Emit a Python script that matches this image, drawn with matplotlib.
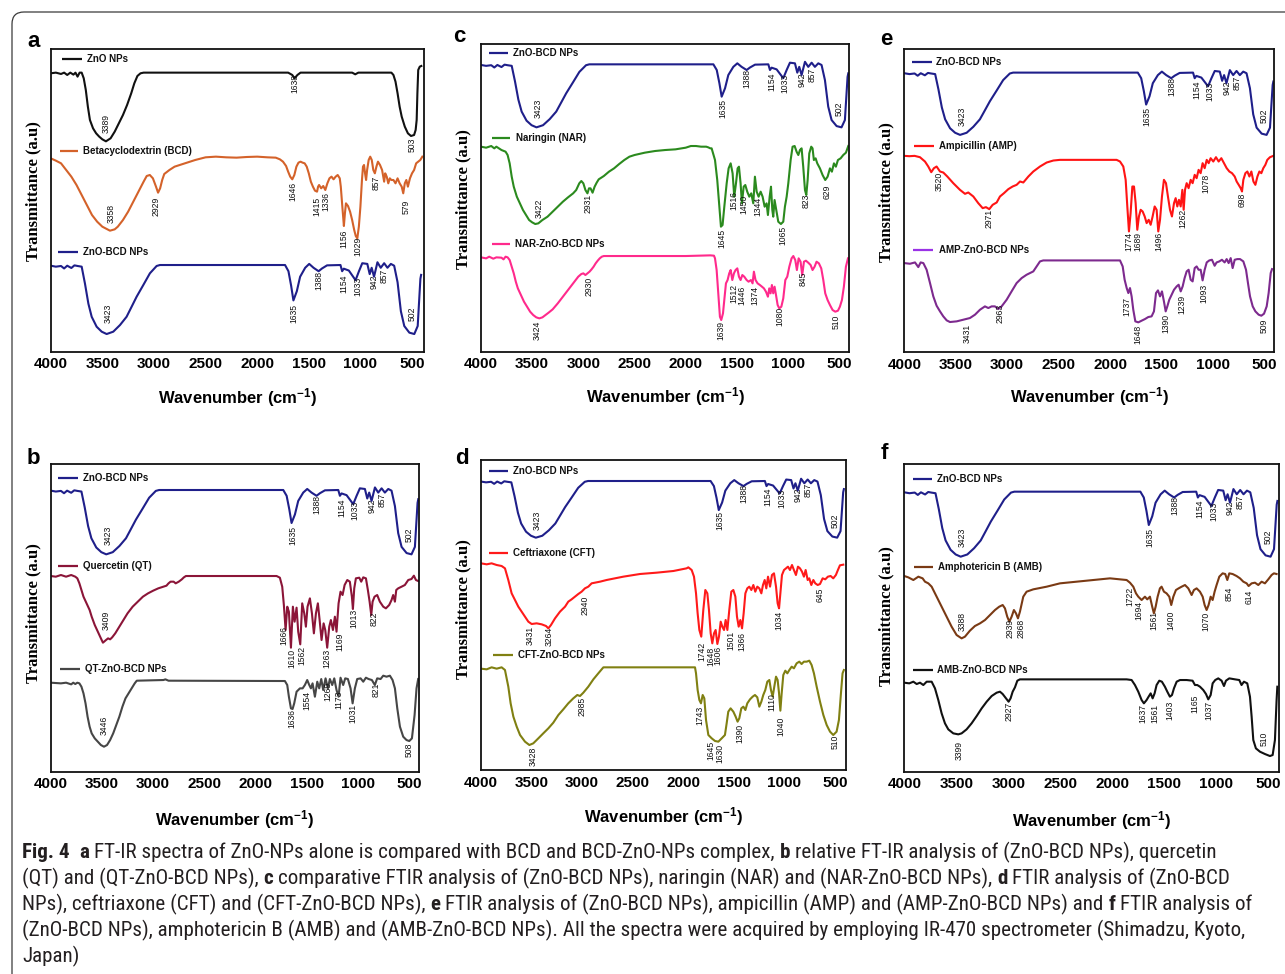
import matplotlib
matplotlib.use("Agg")
import matplotlib.pyplot as plt
from matplotlib import font_manager
from matplotlib.path import Path
from matplotlib.patches import PathPatch
import numpy as np

# ---------------- DATA (wavenumber in cm-1, transmittance in arbitrary units) ----------------
TICKS = [4000, 3500, 3000, 2500, 2000, 1500, 1000, 500]
TICK_LABELS = ["4000", "3500", "3000", "2500", "2000", "1500", "1000", "500"]

# ZnO-BCD NPs spectrum (shared by all six panels), normalised: 100 = baseline, 0 = deepest band
ZNO_BCD_WN = [4000,3950,3900,3870,3840,3800,3770,3740,3700,3668,3635,3603,3555,3506,3458,3394,3329,3265,3216,
              3168,3103,3039,2974,2942,1748,1730,1697,1671,1649,1616,1584,1535,1496,1454,1405,1372,1323,1193,
              1177,1161,1112,1047,1014,982,933,910,891,868,835,803,770,738,705,673,640,608,575,526,478,445,419,412]
ZNO_BCD_N = [99,97.6,98.6,95,99,95.7,99.5,98.6,97.6,73,44,25,10.6,3.4,0,3.4,13,25,39.6,
             54,71,88,98.6,100,100,100,91,70,48.7,62,83,96,101.6,96,91,95,99.5,100,
             91,94.7,92,78,91,102.6,101.6,86.8,96,83,104,96,102.6,96,101.6,99,75,33,11.6,2,0,11.6,80,85.7]
ZNO_BCD_PEAKS = ["3423", "1635", "1388", "1154", "1033", "942", "857", "502"]
ZNO_BCD_PEAK_WN = [3442, 1640, 1400, 1160, 1027, 865, 768, 500]
ZNO_BCD_PEAK_N = [30, 30, 78, 73, 69, 76, 84, 30]

# Panel a
ZNO_WN = [4000,3950,3900,3870,3840,3810,3780,3760,3740,3720,3700,3680,3660,3640,3620,3590,3560,3530,3500,3465,
          3420,3380,3340,3300,3260,3220,3190,3160,3130,3100,1700,1660,1638,1610,1580,1080,1050,1020,
          700,680,660,640,620,600,570,540,510,480,465,455,448,440,425,410]
ZNO_T = [84.0,84.2,83.8,84.2,83.5,84.2,83.6,84.2,83.0,84.2,84.2,82.5,79.0,74.0,70.0,67.5,66.0,65.0,64.2,63.6,
         64.5,66.5,69.0,71.5,74.5,78.0,81.0,83.2,84.0,84.2,84.2,83.5,82.5,83.5,84.2,84.2,83.7,84.2,
         84.2,83.5,81.5,78.0,74.0,71.0,68.0,66.0,65.2,65.5,67.0,70.0,78.0,85.0,86.0,86.2]
BCD_WN = [4000,3950,3900,3850,3800,3750,3700,3650,3600,3550,3500,3426,3380,3350,3300,3250,3200,3150,3100,3070,
          3040,3010,2980,2960,2940,2920,2900,2850,2800,2700,2600,2500,2400,2300,2200,2100,2000,1900,1820,1780,
          1750,1720,1700,1680,1660,1640,1620,1600,1580,1560,1540,1520,1500,1480,1460,1440,1420,1410,1400,1380,
          1360,1340,1320,1300,1280,1260,1240,1220,1200,1190,1175,1160,1150,1140,1120,1100,1080,1060,1045,1030,
          1015,1000,985,975,965,955,945,935,920,905,890,875,860,845,830,810,790,770,760,745,
          730,715,700,680,660,640,620,600,585,570,555,540,520,500,480,460,440,420,400]
BCD_T = [58.5,57.8,57.0,55.0,53.0,50.5,47.5,44.5,41.5,39.5,38.0,36.8,37.2,38.0,40.0,42.5,45.5,48.5,51.5,53.2,
         53.5,52.5,50.0,48.2,49.5,52.0,53.8,55.0,56.0,57.0,58.0,58.8,59.0,58.8,58.7,58.9,59.0,58.8,58.7,58.2,
         57.5,56.2,54.5,53.0,52.2,53.5,56.0,57.2,57.5,57.2,57.0,56.0,54.0,51.5,50.0,48.8,48.5,50.0,50.5,49.5,
         50.2,49.0,51.0,52.5,53.0,52.2,53.0,53.5,52.5,50.0,44.0,38.2,42.0,45.0,44.2,42.5,40.0,37.0,35.2,34.5,
         38.0,44.0,52.0,56.0,56.5,54.0,52.0,55.0,58.0,59.0,58.0,55.0,54.0,56.0,57.5,56.5,55.0,51.5,54.0,53.0,
         51.0,52.5,52.0,52.0,51.0,52.5,51.0,50.0,48.0,51.0,52.0,50.0,52.5,54.0,55.0,57.0,57.5,58.0,59.0]
A_PEAKS = ["3389", "1638", "503", "3358", "2929", "1646", "1415", "1336", "1156", "1029", "857", "579"]
A_PEAK_WN = [3464, 1632, 500, 3416, 2981, 1652, 1426, 1335, 1161, 1023, 845, 555]
A_PEAK_T = [69.0, 81.0, 62.5, 42.0, 44.0, 48.5, 44.0, 45.5, 34.5, 32.0, 51.0, 44.0]

# Panel b
QT_WN = [4000,3950,3900,3850,3800,3760,3740,3720,3700,3680,3650,3620,3600,3570,3540,3510,3490,3460,3440,3420,
         3400,3370,3340,3300,3250,3200,3150,3100,3050,3000,2950,2900,2870,2850,2830,2800,2780,2750,2720,2700,
         2680,2200,1795,1763,1740,1724,1707,1691,1675,1655,1636,1619,1600,1584,1564,1545,1525,1509,1493,1470,
         1450,1431,1411,1392,1375,1356,1336,1320,1301,1281,1265,1245,1226,1210,1190,1171,1151,1131,1105,1080,
         1060,1050,1037,1021,988,969,949,923,904,887,871,858,839,813,787,754,728,696,673,657,
         640,627,608,575,543,510,478,455,435,413]
QT_T = [59.2,59.0,59.5,59.0,59.5,59.0,58.5,57.0,55.0,53.0,51.0,49.0,47.0,44.5,42.5,40.5,39.2,40.0,40.5,40.2,
        40.8,42.0,43.5,45.5,48.0,50.0,51.5,53.0,54.0,54.8,55.5,56.0,56.3,57.0,57.5,57.5,57.0,57.5,58.2,58.8,
        59.2,59.2,59.2,58.7,56.0,50.5,43.0,50.0,48.5,37.7,50.0,45.5,49.7,42.5,38.7,51.0,48.0,44.0,50.0,52.5,
        48.0,42.0,48.0,51.0,46.0,40.0,45.0,43.0,37.7,44.0,46.0,43.0,47.0,42.5,51.0,54.5,53.5,56.5,58.0,57.5,
        53.0,49.3,55.5,58.5,58.7,57.5,58.8,58.5,55.0,51.5,47.5,51.5,53.0,53.5,51.5,50.0,49.5,50.5,52.0,53.5,
        51.5,55.0,55.5,56.0,56.5,58.0,58.3,59.3,58.0,57.7]
QTZ_WN = [4000,3900,3850,3800,3780,3760,3740,3720,3700,3680,3660,3640,3620,3600,3570,3540,3510,3480,3450,3420,
          3390,3360,3330,3300,3270,3240,3210,3180,3160,2900,2880,2850,1714,1691,1675,1655,1639,1623,1600,1567,
          1541,1519,1496,1476,1460,1444,1421,1398,1379,1359,1340,1317,1294,1275,1252,1232,1210,1190,1171,1145,
          1125,1099,1073,1053,1031,1008,975,949,923,897,865,836,813,780,754,722,689,663,640,617,
          591,559,527,500,474,448,429,413]
QTZ_T = [27.2,27.0,27.2,26.7,27.2,26.8,27.2,27.0,26.0,24.0,21.0,17.0,14.0,12.0,10.5,9.5,8.5,8.0,8.5,10.0,
         12.0,14.5,17.0,20.0,22.5,24.0,25.5,27.0,27.8,28.0,28.2,27.8,27.7,26.5,23.0,19.5,19.3,21.0,24.5,25.5,
         25.5,26.5,28.0,26.5,25.5,27.0,23.0,27.5,25.5,28.3,25.0,28.5,25.5,28.3,26.5,28.5,25.0,23.0,28.7,26.5,
         28.5,28.3,25.5,21.0,25.5,28.3,28.5,27.5,28.7,28.3,28.0,26.5,28.5,28.3,29.3,29.0,29.3,28.0,25.5,19.5,
         14.0,11.0,10.0,9.7,10.5,17.5,25.5,28.3]
B_PEAKS = ["3409", "1666", "1610", "1562", "1263", "1169", "1013", "822",
           "3446", "1636", "1554", "1269", "1173", "1031", "821", "508"]
B_PEAK_WN = [3454, 1720, 1649, 1551, 1301, 1177, 1040, 845, 3476, 1642, 1502, 1291, 1187, 1047, 826, 500]
B_PEAK_T = [46.0, 41.5, 34.5, 35.5, 34.5, 39.5, 46.5, 46.3, 14.5, 16.5, 22.0, 24.5, 22.0, 18.0, 25.0, 7.0]

# Panel c
NAR_WN = [4000,3950,3900,3870,3850,3800,3760,3740,3720,3700,3680,3650,3620,3590,3560,3530,3500,3470,3440,3400,
          3350,3300,3250,3200,3150,3100,3070,3040,3020,3000,2980,2960,2945,2930,2910,2890,2870,2850,2800,2750,
          2700,2650,2600,2550,2500,2400,2300,2200,2100,2000,1950,1900,1850,1800,1780,1760,1747,1714,1692,1672,
          1656,1640,1623,1600,1581,1561,1542,1526,1509,1493,1480,1464,1451,1434,1418,1399,1379,1360,1340,1324,
          1307,1288,1268,1249,1229,1210,1197,1180,1167,1154,1145,1132,1118,1096,1070,1047,1031,1014,998,975,
          956,936,917,900,884,868,852,835,822,809,793,774,761,748,731,715,689,663,637,614,
          591,572,552,533,513,487,461,435,412]
NAR_T = [62.0,61.7,62.2,61.5,62.0,61.0,60.5,59.5,57.0,53.0,50.0,47.0,45.0,43.0,41.5,40.0,39.3,38.8,39.0,40.0,
         41.0,42.5,44.0,45.5,46.8,48.0,49.0,51.0,51.7,51.0,49.0,48.0,49.5,49.5,48.2,50.0,51.2,52.2,53.2,54.5,
         55.5,56.8,58.0,59.0,59.5,60.2,60.7,61.0,61.2,61.7,62.2,62.2,62.0,62.0,61.8,61.5,61.5,58.0,52.0,44.0,
         38.0,38.5,44.0,51.0,55.5,57.0,54.0,47.0,51.0,55.5,56.0,51.0,45.0,50.0,50.5,48.5,47.0,48.0,45.0,53.0,
         48.5,47.0,48.5,47.0,44.0,45.0,41.5,47.0,50.0,43.0,41.0,46.0,43.5,39.5,38.8,39.5,44.0,47.0,51.0,58.0,
         62.0,62.2,60.5,59.5,61.0,61.5,56.0,49.0,47.5,52.0,60.0,62.0,61.5,58.0,58.5,57.0,55.5,53.5,52.0,53.0,
         55.5,54.5,57.0,56.0,58.0,58.5,59.5,60.2,62.2]
NARZ_WN = [4000,3950,3920,3880,3850,3800,3780,3760,3740,3720,3700,3680,3660,3640,3610,3580,3550,3520,3490,3460,
           3430,3400,3370,3340,3300,3250,3200,3150,3100,3050,3020,3000,2980,2960,2940,2920,2900,2880,2860,2840,
           2820,2800,2000,1760,1724,1714,1698,1682,1666,1653,1636,1620,1607,1591,1575,1561,1545,1529,1513,1496,
           1480,1464,1447,1428,1405,1386,1363,1347,1334,1318,1298,1275,1255,1236,1216,1197,1184,1171,1158,1145,
           1132,1118,1102,1086,1066,1047,1027,1008,988,966,949,930,914,897,878,862,845,826,803,780,
           761,741,722,699,676,656,637,614,591,565,539,513,494,474,455,435,415]
NARZ_T = [28.8,28.5,29.0,28.4,28.8,28.7,28.2,29.0,28.8,28.0,26.0,24.0,21.5,19.5,17.5,15.5,14.0,12.5,11.5,10.8,
          10.5,10.8,11.5,12.2,13.2,15.0,17.0,19.0,21.0,23.0,23.8,24.0,23.5,24.0,24.5,25.2,26.0,27.0,27.8,28.5,
          29.0,29.2,29.2,29.4,29.3,28.5,25.0,18.0,11.0,10.0,12.0,17.0,21.0,22.0,24.0,25.0,22.0,24.0,25.0,25.5,
          23.0,22.0,23.5,23.0,22.0,21.5,22.0,21.0,24.5,22.0,21.0,20.5,20.0,19.5,18.5,17.0,19.5,18.0,20.5,18.0,
          20.0,17.5,14.5,13.5,14.0,16.5,22.0,23.0,26.0,28.5,29.2,28.0,25.0,28.5,27.5,23.5,27.5,27.8,27.2,26.5,
          25.0,26.0,27.5,27.0,25.5,22.0,18.0,16.0,14.5,13.0,12.5,12.8,14.0,16.0,20.0,26.0,28.5]
C_PEAKS = ["3422", "2931", "1645", "1516", "1450", "1344", "1065", "823", "629",
           "3424", "2930", "1639", "1512", "1446", "1374", "1080", "845", "510"]
C_PEAK_WN = [3433, 2952, 1649, 1526, 1431, 1298, 1047, 819, 614, 3447, 2945, 1656, 1529, 1447, 1324, 1080, 852, 526]
C_PEAK_T = [43.5, 45.0, 34.5, 46.0, 44.7, 44.0, 35.5, 45.7, 48.5, 7.0, 20.0, 7.0, 18.0, 17.5, 17.5, 11.0, 22.5, 9.5]

# Panel d
CFT_WN = [4000,3944,3895,3845,3796,3763,3730,3697,3664,3631,3598,3565,3532,3499,3450,3400,3357,3334,3308,3268,
          3219,3169,3137,3104,3071,3038,3005,2972,2939,2906,2873,2823,2758,2593,2428,2263,2098,1967,1950,1917,
          1894,1874,1858,1841,1822,1802,1782,1762,1746,1729,1713,1696,1680,1663,1647,1630,1614,1597,1581,1564,
          1545,1525,1505,1485,1469,1452,1436,1419,1403,1386,1367,1347,1327,1307,1288,1268,1248,1228,1212,1195,
          1179,1162,1142,1123,1103,1083,1067,1053,1040,1024,1004,984,965,945,925,906,886,866,846,826,
          807,790,770,754,734,714,695,671,648,622,596,570,543,517,491,471,451,418]
CFT_T = [63.0,62.7,63.0,62.5,62.2,61.5,58.0,54.0,52.0,50.0,48.5,47.0,45.5,44.8,45.0,44.7,44.2,43.5,44.5,46.5,
         48.5,50.0,51.5,52.2,53.0,53.8,54.5,55.5,56.0,57.0,57.2,57.5,58.0,59.0,59.8,60.2,60.7,61.5,61.8,61.0,
         59.0,54.0,48.0,43.0,41.0,49.0,55.0,54.0,49.0,42.0,39.0,42.0,43.0,38.8,41.0,45.5,44.0,43.0,46.0,43.0,
         49.0,54.5,55.0,53.0,47.0,44.0,46.0,43.5,48.0,54.0,55.5,56.0,55.0,56.5,54.5,56.0,55.5,54.0,56.5,58.0,
         55.5,59.0,56.0,59.5,60.0,56.0,51.0,49.5,54.0,59.5,61.0,61.5,62.0,61.0,62.5,61.0,59.5,62.0,61.5,60.5,
         59.0,61.0,58.0,58.5,56.5,58.0,57.0,56.5,56.8,58.5,58.2,59.0,59.2,58.5,59.5,61.0,62.4,62.6]
CFTZ_WN = [4000,3944,3895,3845,3796,3763,3730,3707,3680,3647,3614,3565,3522,3483,3433,3384,3334,3285,3235,3186,
           3137,3087,3048,3021,2988,2939,2889,2840,2790,2593,1901,1884,1874,1858,1841,1825,1808,1792,1775,1752,
           1719,1686,1653,1620,1588,1571,1555,1532,1505,1482,1463,1446,1426,1406,1386,1367,1340,1314,1291,1268,
           1248,1228,1209,1189,1169,1149,1133,1116,1100,1083,1067,1053,1040,1027,1011,991,971,951,928,906,
           879,853,830,807,780,754,731,708,681,648,615,582,549,517,484,461,441,425,412]
CFTZ_T = [31.4,31.2,31.8,31.4,31.8,31.0,26.0,21.0,17.0,14.0,11.5,9.5,8.5,9.0,10.5,12.0,13.5,15.2,17.5,19.2,
          21.0,22.5,23.5,23.2,24.2,26.0,28.2,30.0,31.8,31.8,31.8,31.8,30.0,25.0,22.0,21.0,23.5,22.5,16.0,11.5,
          10.5,9.7,9.5,10.5,11.5,15.0,18.5,19.5,18.5,17.0,15.5,16.5,19.5,20.0,19.0,21.0,22.2,23.0,23.5,22.8,
          20.0,21.5,23.5,25.0,27.5,28.0,25.0,23.0,26.0,29.0,28.0,24.0,18.8,24.0,29.5,30.8,30.0,31.0,32.0,31.5,
          33.0,33.5,32.8,33.5,33.5,33.8,32.5,30.0,26.0,21.5,17.5,14.5,12.5,11.5,12.5,16.0,24.0,30.0,31.0]
D_PEAKS = ["3431", "3264", "2940", "1742", "1648", "1606", "1501", "1366", "1034", "645",
           "3428", "2985", "1743", "1645", "1630", "1390", "1110", "1040", "510"]
D_PEAK_WN = [3516, 3324, 2972, 1819, 1726, 1653, 1532, 1423, 1053, 648,
             3489, 3005, 1835, 1729, 1637, 1439, 1126, 1037, 500]
D_PEAK_T = [41.5, 41.0, 50.5, 36.5, 35.0, 35.5, 40.0, 39.5, 46.0, 53.5,
            5.0, 20.0, 17.5, 7.0, 6.0, 12.0, 21.5, 14.0, 9.5]

# Panel e
AMP_WN = [4000,3951,3900,3848,3799,3767,3738,3712,3686,3653,3621,3582,3524,3459,3410,3378,3329,3281,3238,3206,
          3174,3141,3102,3070,3031,2989,2947,2908,2875,2843,2794,2746,2681,2616,2551,2487,2163,1936,1903,1871,
          1848,1832,1816,1800,1783,1767,1751,1735,1719,1702,1683,1663,1644,1624,1605,1586,1566,1547,1531,1514,
          1495,1476,1456,1437,1417,1398,1378,1362,1346,1330,1313,1297,1284,1271,1255,1236,1216,1197,1177,1158,
          1139,1119,1100,1080,1060,1041,1022,996,970,944,918,892,866,840,814,788,769,749,730,717,
          704,684,665,645,626,606,587,567,548,529,510,490,471,445,413]
AMP_T = [59.2,59.1,59.2,58.8,57.5,56.0,54.3,55.5,56.0,54.5,54.2,53.0,51.0,49.0,47.8,48.2,47.0,45.0,43.5,43.8,
         43.2,44.5,45.2,47.0,48.0,49.2,50.0,50.5,51.5,51.2,53.0,54.5,56.0,57.2,57.8,58.0,58.0,58.0,57.5,56.0,
         52.0,44.0,36.5,42.0,50.0,50.0,45.0,37.0,41.0,43.0,42.5,41.0,39.0,40.0,38.5,41.0,44.0,43.0,36.5,40.0,
         47.0,52.0,51.0,47.0,43.0,41.0,45.0,46.5,44.0,46.0,44.0,49.0,43.0,49.0,51.0,49.5,52.0,51.0,53.5,52.5,
         55.0,54.0,57.0,55.5,58.0,57.0,58.5,57.5,58.8,57.5,58.5,57.0,55.5,54.5,54.0,53.0,51.5,50.5,49.5,48.5,
         52.0,54.0,54.5,53.0,54.5,51.5,50.5,53.0,54.5,54.0,55.5,56.5,58.0,58.8,59.2]
AMPZ_WN = [4000,3945,3896,3864,3841,3815,3783,3750,3718,3686,3653,3621,3588,3556,3491,3426,3362,3313,3264,3216,
           3183,3151,3119,3086,3054,3005,2957,2908,2859,2811,2746,2681,2649,2487,1903,1877,1858,1838,1822,1806,
           1790,1774,1754,1725,1693,1660,1628,1596,1573,1553,1534,1514,1495,1476,1459,1443,1424,1401,1378,1352,
           1333,1313,1294,1275,1255,1236,1216,1197,1177,1158,1139,1119,1100,1080,1060,1035,1009,983,964,938,
           912,886,866,847,827,808,788,762,736,704,678,659,639,613,587,555,529,503,477,458,
           438,425]
AMPZ_T = [27.0,26.8,27.2,25.8,27.2,27.0,25.0,21.0,17.0,14.2,12.5,11.0,9.8,9.3,9.5,10.0,10.5,11.5,13.0,14.0,
          13.5,14.0,14.0,13.2,14.0,16.0,18.5,21.0,22.5,23.5,24.5,27.5,27.8,27.8,27.8,26.0,22.0,19.5,18.0,19.5,
          17.0,13.0,9.5,9.2,9.7,10.2,10.8,11.0,12.5,18.0,18.8,17.0,18.5,15.5,12.5,14.0,16.0,17.5,19.0,20.0,
          20.5,18.5,20.0,22.5,24.5,25.0,22.0,21.5,25.5,26.0,25.0,25.0,21.8,25.0,27.2,27.8,28.0,26.2,27.2,27.5,
          28.0,27.2,28.2,27.0,28.5,25.5,28.0,28.2,28.2,27.5,25.0,21.0,17.0,14.0,12.5,11.5,11.2,11.8,14.0,18.0,
          24.0,25.2]
E_PEAKS = ["3520", "2971", "1774", "1689", "1496", "1262", "1078", "698",
           "3431", "2963", "1737", "1648", "1390", "1239", "1093", "509"]
E_PEAK_WN = [3663, 3174, 1819, 1725, 1524, 1288, 1070, 720, 3388, 3070, 1832, 1732, 1456, 1304, 1087, 503]
E_PEAK_T = [51.5, 40.5, 33.5, 33.5, 33.5, 40.5, 51.0, 46.0, 6.0, 12.0, 14.0, 5.5, 9.0, 14.5, 18.0, 8.3]

# Panel f
AMB_WN = [4000,3962,3913,3865,3824,3801,3769,3737,3689,3641,3593,3545,3497,3449,3417,3369,3321,3272,3224,3176,
          3128,3087,3054,3032,3010,2990,2968,2946,2926,2907,2888,2856,2824,2760,2631,2503,2343,2183,2022,1926,
          1862,1830,1798,1772,1750,1718,1686,1664,1638,1616,1600,1583,1564,1542,1526,1503,1478,1452,1433,1413,
          1388,1362,1333,1301,1269,1237,1215,1189,1157,1131,1112,1093,1074,1054,1035,1016,997,971,939,914,
          894,875,843,805,772,740,708,689,660,628,596,564,532,500,468,446,420]
AMB_T = [59.2,58.8,58.0,59.0,58.5,57.5,57.0,56.0,53.0,50.0,47.0,44.0,41.5,40.5,41.0,42.8,44.2,45.0,46.0,47.5,
         49.0,50.0,50.5,49.5,47.0,45.5,47.0,49.0,48.0,46.5,48.5,53.0,54.5,55.2,56.0,57.0,57.5,58.0,58.5,58.2,
         58.0,57.2,56.0,54.0,53.0,52.0,53.0,52.2,53.0,50.0,48.0,50.0,53.0,55.5,56.0,54.5,54.0,53.0,50.5,53.0,
         55.0,55.5,56.0,56.5,55.5,53.5,55.0,55.5,54.5,53.0,50.5,49.0,50.5,53.0,52.0,54.5,56.5,59.0,60.0,59.8,
         58.0,60.0,59.8,59.2,58.5,57.5,57.0,56.2,57.0,57.2,56.5,57.5,57.0,58.2,59.5,60.0,59.8]
AMBZ_WN = [4000,3952,3913,3881,3849,3817,3785,3737,3705,3673,3641,3609,3577,3529,3481,3449,3401,3353,3304,3256,
           3208,3160,3112,3080,3054,3022,2997,2978,2958,2936,2913,2888,2503,1862,1814,1782,1750,1718,1696,1670,
           1651,1631,1612,1593,1574,1548,1523,1494,1471,1446,1426,1407,1381,1349,1285,1228,1205,1183,1157,1125,
           1099,1077,1054,1035,1010,981,949,926,907,875,820,779,757,734,702,676,660,644,619,580,
           532,484,458,436,420,413]
AMBZ_T = [27.2,27.0,27.5,26.8,27.2,26.5,27.5,27.5,25.5,22.0,18.0,15.0,13.2,12.0,11.7,12.0,13.2,15.0,17.2,19.5,
          21.5,23.2,24.2,24.5,23.8,22.5,21.5,22.5,24.5,25.8,27.8,28.2,28.2,28.2,28.0,26.5,24.5,22.0,21.0,22.0,
          23.0,24.0,22.5,24.0,26.5,27.8,27.5,26.0,24.5,23.0,23.5,25.5,27.5,28.0,28.0,27.8,26.5,26.5,26.0,25.0,
          23.8,22.2,23.5,27.0,28.0,28.5,27.8,26.2,27.8,28.5,28.2,28.0,26.5,27.5,27.0,23.0,17.0,10.0,7.5,6.5,
          5.8,5.2,5.5,10.0,22.0,26.0]
F_PEAKS = ["3388", "2939", "2868", "1722", "1694", "1561", "1400", "1070", "854", "614",
           "3399", "2927", "1637", "1561", "1403", "1165", "1037", "510"]
F_PEAK_WN = [3439, 2984, 2878, 1830, 1740, 1599, 1439, 1103, 875, 683, 3474, 2990, 1702, 1590, 1446, 1205, 1071, 538]
F_PEAK_T = [45.5, 43.5, 43.5, 53.0, 49.0, 46.0, 46.0, 45.5, 54.0, 53.0, 7.0, 18.5, 18.0, 18.0, 19.0, 21.0, 19.0, 10.5]

CAPTION = [
    [("Fig. 4", True), None, None, ("a", True), None,
     ("FT-IR spectra of ZnO-NPs alone is compared with BCD and BCD-ZnO-NPs complex,", False), None,
     ("b", True), None, ("relative FT-IR analysis of (ZnO-BCD NPs), quercetin", False)],
    [("(QT) and (QT-ZnO-BCD NPs),", False), None, ("c", True), None,
     ("comparative FTIR analysis of (ZnO-BCD NPs), naringin (NAR) and (NAR-ZnO-BCD NPs),", False), None,
     ("d", True), None, ("FTIR analysis of (ZnO-BCD", False)],
    [("NPs), ceftriaxone (CFT) and (CFT-ZnO-BCD NPs),", False), None, ("e", True), None,
     ("FTIR analysis of (ZnO-BCD NPs), ampicillin (AMP) and (AMP-ZnO-BCD NPs) and", False), None,
     ("f", True), None, ("FTIR analysis of", False)],
    [("(ZnO-BCD NPs), amphotericin B (AMB) and (AMB-ZnO-BCD NPs). All the spectra were acquired by employing "
      "IR-470 spectrometer (Shimadzu, Kyoto,", False)],
    [("Japan)", False)],
]
CAPTION_LINE_ENDS = [1245, 1245, 1250, 1278, None]

# ---------------- FIGURE ----------------
W, H = 1285, 974
plt.rcParams['font.family'] = ['Liberation Sans', 'DejaVu Sans']
plt.rcParams['mathtext.fontset'] = 'custom'
plt.rcParams['mathtext.rm'] = 'Liberation Sans:bold'
plt.rcParams['mathtext.bf'] = 'Liberation Sans:bold'
plt.rcParams['mathtext.it'] = 'Liberation Sans:bold'

fig = plt.figure(figsize=(W / 100, H / 100), dpi=100)
fig.patch.set_facecolor('white')


def fx(x):
    return x / W


def fy(y):
    return 1 - y / H


# rounded outer frame
rr = 12
verts = [(fx(12), fy(974)), (fx(12), fy(12 + rr)), (fx(12), fy(12)), (fx(12 + rr), fy(12)), (fx(1285), fy(12))]
codes = [Path.MOVETO, Path.LINETO, Path.CURVE3, Path.CURVE3, Path.LINETO]
fig.add_artist(PathPatch(Path(verts, codes), transform=fig.transFigure, fill=False, lw=0.9, edgecolor='#3a3a3a'))

C_ZB = '#1f1f8a'
PANELS = [
    dict(letter='a', lpos=(27, 47), box=(50.7, 49.3, 424, 351.7), xr=384, ylim=(0.5, 91.2), zb=(26.5, 5.8),
         series=[(ZNO_WN, ZNO_T, '#111111'), (BCD_WN, BCD_T, '#d4622a')],
         legend=[("ZnO NPs", '#111111', 3894, 3700, 3645, 88.3),
                 ("Betacyclodextrin (BCD)", '#d4622a', 3910, 3732, 3690, 60.7),
                 ("ZnO-BCD NPs", C_ZB, 3926, 3732, 3690, 30.3)],
         peaks=(A_PEAKS, A_PEAK_WN, A_PEAK_T), ylab_y=0.532, xlab_off=46),
    dict(letter='c', lpos=(453, 41.7), box=(481, 44, 849.3, 351.7), xr=402, ylim=(0.5, 92.8), zb=(86.7, 67.8),
         series=[(NAR_WN, NAR_T, '#2b8a1e'), (NARZ_WN, NARZ_T, '#ff2a8c')],
         legend=[("ZnO-BCD NPs", C_ZB, 3919, 3733, 3691, 90.0),
                 ("Naringin (NAR)", '#2b8a1e', 3896, 3717, 3658, 64.5),
                 ("NAR-ZnO-BCD NPs", '#ff2a8c', 3896, 3717, 3664, 32.8)],
         peaks=(C_PEAKS, C_PEAK_WN, C_PEAK_T), ylab_y=0.496, xlab_off=45),
    dict(letter='e', lpos=(880, 45), box=(904.3, 49.3, 1274.3, 352), xr=403, ylim=(0.3, 91.2), zb=(84.2, 65.5),
         series=[(AMP_WN, AMP_T, '#ff1414'), (AMPZ_WN, AMPZ_T, '#7d2a8e')],
         legend=[("ZnO-BCD NPs", C_ZB, 3929, 3734, 3692, 87.5),
                 ("Ampicillin (AMP)", '#ff1414', 3906, 3712, 3660, 62.3),
                 ("AMP-ZnO-BCD NPs", '#9a32e6', 3912, 3718, 3660, 30.8)],
         peaks=(E_PEAKS, E_PEAK_WN, E_PEAK_T), ylab_y=0.527, xlab_off=45),
    dict(letter='b', lpos=(27, 464), box=(50.7, 464, 419.3, 771.7), xr=402, ylim=(0.5, 92.8), zb=(85.0, 65.7),
         series=[(QT_WN, QT_T, '#8b1538'), (QTZ_WN, QTZ_T, '#464646')],
         legend=[("ZnO-BCD NPs", C_ZB, 3925, 3730, 3688, 88.5),
                 ("Quercetin (QT)", '#8b1538', 3925, 3730, 3681, 62.3),
                 ("QT-ZnO-BCD NPs", '#464646', 3909, 3714, 3665, 31.2)],
         peaks=(B_PEAKS, B_PEAK_WN, B_PEAK_T), ylab_y=0.515, xlab_off=48),
    dict(letter='d', lpos=(455, 464), box=(481, 460, 846, 770), xr=391, ylim=(1.0, 94.0), zb=(87.7, 70.7),
         series=[(CFT_WN, CFT_T, '#ff1a1a'), (CFTZ_WN, CFTZ_T, '#808012')],
         legend=[("ZnO-BCD NPs", C_ZB, 3918, 3730, 3687, 90.7),
                 ("Ceftriaxone (CFT)", '#ff1a1a', 3918, 3730, 3687, 66.0),
                 ("CFT-ZnO-BCD NPs", '#808012', 3878, 3687, 3631, 35.4)],
         peaks=(D_PEAKS, D_PEAK_WN, D_PEAK_T), ylab_y=0.52, xlab_off=47),
    dict(letter='f', lpos=(881, 459), box=(904.3, 464, 1279.3, 771.7), xr=394, ylim=(0.5, 92.8), zb=(84.5, 65.0),
         series=[(AMB_WN, AMB_T, '#7a3a14'), (AMBZ_WN, AMBZ_T, '#111111')],
         legend=[("ZnO-BCD NPs", C_ZB, 3920, 3737, 3689, 88.2),
                 ("Amphotericin B (AMB)", '#7a3a14', 3907, 3728, 3680, 62.0),
                 ("AMB-ZnO-BCD NPs", '#111111', 3913, 3728, 3683, 31.0)],
         peaks=(F_PEAKS, F_PEAK_WN, F_PEAK_T), ylab_y=0.507, xlab_off=49),
]

zb_wn = np.array(ZNO_BCD_WN, dtype=float)
zb_n = np.array(ZNO_BCD_N, dtype=float)

for P in PANELS:
    l, t, r, b = P['box']
    wpx, hpx = r - l, b - t
    ax = fig.add_axes([l / W, 1 - b / H, wpx / W, hpx / H])
    ax.set_xlim(4000, P['xr'])
    ax.set_ylim(*P['ylim'])
    ax.set_yticks([])
    ax.set_xticks(TICKS)
    ax.set_xticklabels(TICK_LABELS, fontsize=11, fontweight='bold')
    ax.tick_params(axis='x', length=0, pad=4)
    for sp in ax.spines.values():
        sp.set_linewidth(1.3)
        sp.set_color('#111111')

    base, mn = P['zb']
    ax.plot(zb_wn, mn + zb_n / 100.0 * (base - mn), color=C_ZB, lw=1.5, solid_joinstyle='round')
    for s, w, n in zip(ZNO_BCD_PEAKS, ZNO_BCD_PEAK_WN, ZNO_BCD_PEAK_N):
        ax.text(w, mn + n / 100.0 * (base - mn), s, rotation=90, ha='center', va='center',
                fontsize=6.2, color='#111111')

    for wn, tt, col in P['series']:
        ax.plot(wn, tt, color=col, lw=1.5, solid_joinstyle='round')

    labs, lw_, lt_ = P['peaks']
    for s, w, v in zip(labs, lw_, lt_):
        ax.text(w, v, s, rotation=90, ha='center', va='center', fontsize=6.2, color='#111111')

    for name, col, wa, wb, wt, yy in P['legend']:
        ax.plot([wa, wb], [yy, yy], color=col, lw=1.6, solid_capstyle='butt')
        ax.text(wt, yy, name, fontsize=7, fontweight='bold', va='center', ha='left', color='#111111')

    ax.set_xlabel(r'Wavenumber (cm$^{\mathbf{-1}}$)', fontsize=12, fontweight='bold')
    ax.xaxis.set_label_coords(0.5, -P['xlab_off'] / hpx)
    ax.xaxis.label.set_va('center')
    ax.set_ylabel('Transmittance (a.u)', fontsize=12, fontweight='bold',
                  family=['Liberation Serif', 'DejaVu Serif'])
    ax.yaxis.set_label_coords(-17.5 / wpx, P['ylab_y'])
    ax.yaxis.label.set_va('center')

    lx, ly = P['lpos']
    fig.text(fx(lx), fy(ly), P['letter'], fontsize=16, fontweight='bold', ha='left', va='baseline')

# ---------------- CAPTION ----------------
# prefer a narrow / condensed face if one is installed
cap_family, cap_stretch = 'Liberation Sans', 'normal'
_names = {}
for f in font_manager.fontManager.ttflist:
    _names.setdefault(f.name, set()).add(str(f.stretch))
for cand in ['Liberation Sans Narrow', 'Roboto Condensed', 'Open Sans Condensed', 'Noto Sans Condensed',
             'DejaVu Sans Condensed']:
    if cand in _names:
        cap_family = cand
        break
else:
    for fam in ['DejaVu Sans', 'Noto Sans', 'Open Sans', 'Roboto']:
        st = _names.get(fam, set())
        hit = [s for s in st if s in ('condensed', 'semi-condensed', '75', '87.5', '62.5')]
        if hit:
            cap_family, cap_stretch = fam, hit[0]
            break

renderer = fig.canvas.get_renderer()


def text_w(s, bold, size):
    tt = fig.text(0, 0, s, fontsize=size, fontweight='bold' if bold else 'normal', family=cap_family,
                  fontstretch=cap_stretch)
    w = tt.get_window_extent(renderer).width
    tt.remove()
    return w


def line_w(line, size):
    sw = text_w('a a', False, size) - text_w('aa', False, size)
    total = 0
    for seg in line:
        total += sw if seg is None else text_w(seg[0], seg[1], size)
    return total


ref_size = 10.0
cap_size = min(ref_size * (end - 22) / line_w(line, ref_size)
               for line, end in zip(CAPTION, CAPTION_LINE_ENDS) if end is not None)
space_w = text_w('a a', False, cap_size) - text_w('aa', False, cap_size)
baselines = [858, 884, 910, 936, 962]
for line, yb in zip(CAPTION, baselines):
    x = 22.0
    for seg in line:
        if seg is None:
            x += space_w
            continue
        s, bold = seg
        tt = fig.text(fx(x), fy(yb), s, fontsize=cap_size, fontweight='bold' if bold else 'normal',
                      family=cap_family, fontstretch=cap_stretch,
                      ha='left', va='baseline', color='#231f20')
        x += tt.get_window_extent(renderer).width

fig.savefig('out.png', dpi=100, facecolor='white')
